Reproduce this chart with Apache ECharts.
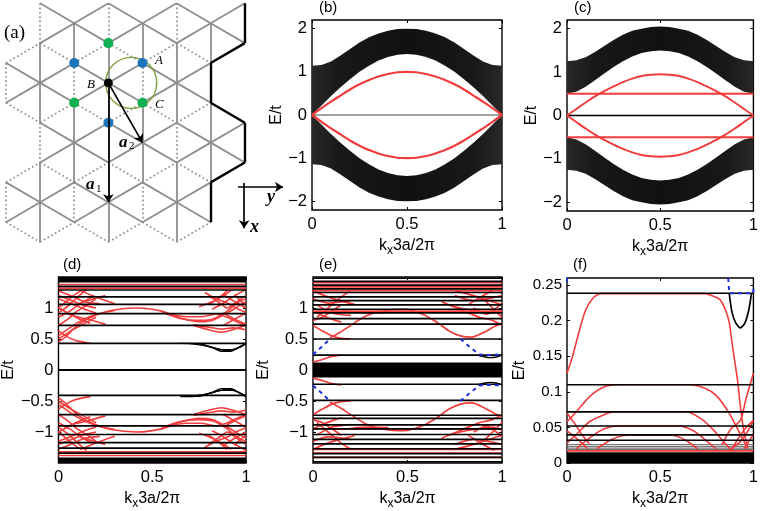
<!DOCTYPE html>
<html><head><meta charset="utf-8">
<script src="https://cdn.jsdelivr.net/npm/echarts@6/dist/echarts.min.js"></script>
<style>html,body{margin:0;padding:0;background:#fff}#c{width:761px;height:511px}</style>
</head><body><div id="c"></div>
<script>
// ---- lattice (panel a): edges as [col,row,col,row]
const latticeSolid=[[1,0,2,1],[2,1,3,0],[3,0,4,1],[4,1,5,0],[5,0,6,1],[6,1,7,0],[1,2,2,1],[2,1,3,2],[3,2,4,1],[4,1,5,2],[5,2,6,1],[6,1,7,2],
[2,1,2,3],[4,1,4,3],[6,1,6,3],[1,2,1,4],[3,2,3,4],[5,2,5,4],[0,3,1,4],[1,4,2,3],[2,3,3,4],[3,4,4,3],[4,3,5,4],[5,4,6,3],
[0,5,1,4],[1,4,2,5],[2,5,3,4],[3,4,4,5],[4,5,5,4],[5,4,6,5],[1,4,1,6],[3,4,3,6],[5,4,5,6],[2,5,2,7],[4,5,4,7],[6,5,6,7],
[1,6,2,7],[2,7,3,6],[3,6,4,7],[4,7,5,6],[5,6,6,7],[6,7,7,6],[1,8,2,7],[2,7,3,8],[3,8,4,7],[4,7,5,8],[5,8,6,7],[6,7,7,8],
[2,7,2,9],[4,7,4,9],[6,7,6,9],[3,6,3,8],[1,8,1,10],[3,8,3,10],[5,8,5,10],[0,9,1,10],[1,10,2,9],[2,9,3,10],[3,10,4,9],[4,9,5,10],[5,10,6,9],
[0,11,1,10],[1,10,2,11],[2,11,3,10],[3,10,4,11],[4,11,5,10],[5,10,6,11],[1,10,1,12],[3,10,3,12],[5,10,5,12]];
const latticeDotted=[[1,0,1,2],[3,0,3,2],[5,0,5,2],[0,3,1,2],[1,2,2,3],[2,3,3,2],[3,2,4,3],[4,3,5,2],[5,2,6,3],[0,3,0,5],[2,3,2,5],[4,3,4,5],
[0,5,1,6],[1,6,2,5],[2,5,3,6],[3,6,4,5],[4,5,5,6],[5,6,6,5],[1,6,1,8],[5,6,5,8],[0,9,1,8],[1,8,2,9],[2,9,3,8],[3,8,4,9],[4,9,5,8],[5,8,6,9],
[0,9,0,11],[2,9,2,11],[4,9,4,11],[0,11,1,12],[1,12,2,11],[2,11,3,12],[3,12,4,11],[4,11,5,12],[5,12,6,11]];
const latticeBold=[[7,0,7,2],[7,2,6,3],[6,3,6,5],[6,5,7,6],[7,6,7,8],[7,8,6,9],[6,9,6,11]];
const sitesGreen=[[3,2],[2,5],[4,5]];
const sitesBlue=[[2,3],[4,3],[3,6]];
const siteBlack=[[3,4]];
const ringCentre=[[3.67,4]];
const arrowsVec=[[3,4,3,10],[3,4,4,7],[6.8,9.23,8.12,9.23],[6.98,9.03,6.98,11.3]];

// ---- panels b, c
const kGrid=[0,.05,.1,.15,.2,.25,.3,.35,.4,.45,.5,.55,.6,.65,.7,.75,.8,.85,.9,.95,1];
const bTop=[1.14,1.16,1.24,1.38,1.53,1.68,1.8,1.89,1.95,1.99,2,1.99,1.95,1.89,1.8,1.68,1.53,1.38,1.24,1.16,1.14];
const bBot=[0,.22,.44,.64,.83,1,1.14,1.26,1.345,1.395,1.41,1.395,1.345,1.26,1.14,1,.83,.64,.44,.22,0];
const bRed=[0,.16,.31,.45,.59,.71,.81,.89,.95,.99,1,.99,.95,.89,.81,.71,.59,.45,.31,.16,0];
const cTop=[1.25,1.27,1.34,1.46,1.6,1.74,1.86,1.95,2,2.04,2.05,2.04,2,1.95,1.86,1.74,1.6,1.46,1.34,1.27,1.25];
const cBot=[.5,.55,.66,.81,.97,1.12,1.25,1.36,1.44,1.48,1.5,1.48,1.44,1.36,1.25,1.12,.97,.81,.66,.55,.5];
const cRed=[0,.15,.3,.44,.56,.67,.77,.85,.91,.94,.95,.94,.91,.85,.77,.67,.56,.44,.3,.15,0];
const cFlatRed=[.5,-.5];
const cFlatBlack=[0];

// ---- panel d
const dLevels=[.43,.72,.91,1.06,1.18,1.29,1.35];
const dLevelsLow=[.41,.72,.9,1.04,1.17,1.26,1.34];
const dFlatRed=[1.38,1.32];
const dBlackCurves=[[[.65,.43],[.75,.42],[.82,.36],[.87,.3],[.92,.3],[.97,.38],[1,.43]],[[.7,.43],[.8,.38],[.87,.33],[.93,.33],[1,.42]],[[.75,.43],[.84,.35],[.9,.31],[.96,.36],[1,.43]]];
const dRed=[
[[0,.63],[.05,.53],[.1,.47],[.17,.43]],
[[0,.45],[.04,.54],[.1,.72],[.18,.86],[.28,.96],[.42,1],[.55,.95],[.65,.84],[.75,.78],[.82,.8],[.9,.92],[.97,1.05],[1,1.1]],
[[0,.5],[.06,.62],[.12,.72],[.2,.85]],
[[0,.55],[.05,.66],[.1,.76],[.15,.84],[.22,.91],[.3,.96]],
[[.72,.72],[.8,.65],[.87,.61],[.93,.65],[1,.72]],
[[.72,.73],[.8,.69],[.87,.66],[.93,.68],[1,.65]],
[[.55,.93],[.65,.83],[.74,.8],[.82,.82],[.9,.95],[.95,1.08],[1,1.15]],
[[.6,.9],[.68,.86],[.76,.86],[.84,.9],[.9,.85],[.95,.78],[1,.72]],
[[.88,.92],[.94,.82],[1,.74]],[[.88,.72],[.94,.82],[1,.92]],
[[0,.92],[.05,1.03],[.1,1.17],[.15,1.3]],[[0,1],[.05,.92],[.1,.84],[.17,.75]],
[[0,1.15],[.06,1.08],[.14,.98],[.2,.92]],[[0,1.28],[.08,1.18],[.14,1.1],[.22,1.07]],[[0,1],[.04,1.1],[.08,1.2],[.12,1.28]],
[[.8,1.05],[.85,1.15],[.9,1.28]],[[.8,1.2],[.86,1.08],[.9,1],[.95,1.1],[1,1.2]],[[.88,1.22],[.94,1.1],[1,1]],
[[0,.72],[.05,.82],[.1,.95],[.16,1.06],[.2,1.15]],[[0,.85],[.06,.95],[.12,1.08],[.18,1.18]],[[.03,.92],[.1,.86],[.18,.8],[.25,.74]],
[[0,1.2],[.07,1.12],[.13,1.05],[.2,1]],[[.12,1.28],[.18,1.2],[.25,1.12],[.3,1.07]],[[.1,1.06],[.18,1.14],[.25,1.2]],
[[.75,1.02],[.82,1.1],[.88,1.2],[.92,1.28]],[[.82,.98],[.88,1.08],[.93,1.18],[1,1.3]],[[.78,1.25],[.84,1.15],[.9,1.08],[.96,.98],[1,.93]],[[.94,1.22],[.97,1.12],[1,1.05]]
];

// ---- panel e
const eLevels=[.24,.5,.74,.83,.92,.98,1.05,1.12,1.18,1.25,1.31,1.37,1.43,1.48];
const eLevelsLow=[.23,.49,.73,.78,.885,.95,1.04,1.12,1.19,1.27,1.35,1.41,1.48];
const eFlatRed=[1.41,1.34,1.28,.95];
const eCurves=[
[[0,.13],[.05,.17],[.1,.22],[.15,.24]],
[[0,.72],[.05,.63],[.1,.55],[.15,.51],[.2,.5]],
[[.09,.52],[.14,.6],[.2,.72],[.28,.87],[.38,.96],[.48,.98],[.58,.9],[.66,.76],[.72,.63],[.78,.55],[.84,.53],[.9,.6],[.96,.7],[1,.75]],
[[0,.95],[.05,.88],[.1,.82],[.15,.77]],[[0,.8],[.05,.85],[.1,.95],[.15,1.05]],[[.02,1.05],[.1,.92],[.2,.88]],
[[.15,.96],[.28,.92],[.4,.93]],[[.72,1.05],[.8,.95],[.88,.85],[.95,.8],[1,.72]],[[.85,1],[.92,.9],[.97,1],[1,1.08]],[[.9,1.15],[.95,1],[1,.85]],
[[0,1.15],[.08,1.08],[.2,1.12]],[[.75,1.2],[.85,1.12],[1,1.2]],
[[0,1.28],[.06,1.2],[.14,1.12],[.22,1.06]],[[.02,.85],[.08,1],[.15,1.18],[.2,1.28]],[[.75,1.28],[.85,1.2],[.93,1.12],[1,1.05]],[[.82,1.05],[.9,1.2],[.96,1.3]],[[.68,1.1],[.75,1.02],[.85,.96],[.95,.92],[1,.97]]
];
const eBlue=[[[0,.25],[.045,.37],[.09,.5]],[[.78,.5],[.83,.37],[.88,.25],[.93,.24],[1,.25]]];
const eBlackCurve=[[.87,.24],[.91,.21],[.94,.2],[.97,.21],[1,.24]];
const eBand=.12;

// ---- panel f
const fLevels=[.2386,.11,.0718,.052,.0395,.032];
const fGrey=[.026,.0235,.021,.019];
const fRed=[
[[0,.126],[.03,.15],[.06,.18],[.1,.215],[.14,.232],[.18,.238],[.74,.238],[.78,.235],[.82,.23],[.85,.215],[.87,.198],[.89,.16],[.915,.116],[.93,.08],[.95,.043],[.97,.022]],
[[1,.126],[.96,.09],[.93,.06],[.88,.048],[.83,.025]],
[[0,.058],[.05,.072],[.12,.093],[.2,.107],[.28,.11],[.66,.11],[.74,.105],[.8,.095],[.87,.07],[.93,.04],[.97,.02]],
[[0,.07],[.04,.056],[.08,.04],[.12,.027]],
[[0,.028],[.05,.04],[.12,.058],[.2,.068],[.25,.072],[.64,.072],[.72,.062],[.78,.048],[.84,.03],[.88,.018]],
[[0,.045],[.04,.037],[.08,.028],[.11,.02]],
[[.05,.02],[.12,.035],[.2,.048],[.27,.052],[.6,.052],[.68,.045],[.74,.033],[.8,.02]],
[[.16,.02],[.24,.033],[.32,.039],[.56,.039],[.63,.033],[.7,.02]],
[[1,.06],[.96,.05],[.92,.035],[.88,.018]],[[.95,.02],[1,.04]],[[.88,.02],[.93,.03],[.97,.045],[1,.06]],
[[0,.017],[1,.017]]
];
const fBlackCurve=[[.87,.2386],[.885,.212],[.905,.197],[.93,.19],[.955,.197],[.975,.215],[.99,.2386]];
const fBlue=[[[.865,.26],[.87,.2386],[1,.2386],[1,.25]],[[0,.26],[0,.255]]];
const fBand=.015;

// ---- axis ticks
const ticksB=[-2,-1,0,1,2];
const ticksD=[-1,-.5,0,.5,1];
const ticksF=[0,.05,.1,.15,.2,.25];
const ticksX=[0,.5,1];

const BLACK='#000',RED='#f23c3c',BLUE='#1a2fe0',GREY='#8e8e8e';
const FONT='"Liberation Sans",Arial,sans-serif';
const panels=[
 {rect:[312,20,190,190],range:[-2.2,2.2],ticks:ticksB,gap:21,size:16.5},
 {rect:[567,20,189,191],range:[-2.2,2.2],ticks:ticksB,gap:19,size:16.5},
 {rect:[57,277,189,190],range:[-1.5,1.5],ticks:ticksD,gap:39,size:16.5},
 {rect:[313,277,189,190],range:[-1.5,1.5],ticks:ticksD,gap:40,size:16.5},
 {rect:[567,278,189,190],range:[0,.26],ticks:ticksF,gap:39,size:15}
];
const grid=[{left:6,top:3.3,width:290,height:248.75,show:false}];
const xAxis=[{gridIndex:0,type:'value',min:0,max:8.5,show:false}];
const yAxis=[{gridIndex:0,type:'value',min:0,max:12.5,inverse:true,show:false}];
const fmt=v=>String(v).replace('-','\u2212').replace(/^\./,'0.');
panels.forEach((p,i)=>{
 const g=i+1;
 grid.push({left:p.rect[0],top:p.rect[1],width:p.rect[2],height:p.rect[3],show:true,borderColor:'#000',borderWidth:1.4,backgroundColor:'#fff'});
 const tick={show:true,inside:true,length:3,lineStyle:{color:'#000',width:1}};
 xAxis.push({gridIndex:g,type:'value',min:0,max:1,position:'bottom',
  axisLine:{show:false,onZero:false},splitLine:{show:false},
  axisTick:{...tick,customValues:ticksX},
  axisLabel:{customValues:ticksX,formatter:fmt,color:'#000',fontFamily:FONT,fontSize:16.5,margin:6,hideOverlap:false},
  name:'{a|k}{s|x}{a|3a/2\u03c0}',nameLocation:'middle',nameGap:24,
  nameTextStyle:{rich:{a:{fontSize:16,fontFamily:FONT,color:'#000'},s:{fontSize:12,fontFamily:FONT,color:'#000',verticalAlign:'bottom',padding:[11,0,0,0]}}}});
 yAxis.push({gridIndex:g,type:'value',min:p.range[0],max:p.range[1],position:'left',
  axisLine:{show:false,onZero:false},splitLine:{show:false},
  axisTick:{...tick,customValues:p.ticks},
  axisLabel:{customValues:p.ticks,formatter:fmt,color:'#000',fontFamily:FONT,fontSize:p.size,margin:5,hideOverlap:false},
  name:'E/t',nameLocation:'middle',nameGap:p.gap,nameTextStyle:{color:'#000',fontFamily:FONT,fontSize:16}});
});
// mirrored ticks on top and right
panels.forEach((p,i)=>{
 const g=i+1;
 const tick={show:true,inside:true,length:3,lineStyle:{color:'#000',width:1}};
 xAxis.push({gridIndex:g,type:'value',min:0,max:1,position:'top',axisLine:{show:false,onZero:false},splitLine:{show:false},axisTick:{...tick,customValues:ticksX},axisLabel:{show:false}});
 yAxis.push({gridIndex:g,type:'value',min:p.range[0],max:p.range[1],position:'right',axisLine:{show:false,onZero:false},splitLine:{show:false},axisTick:{...tick,customValues:p.ticks},axisLabel:{show:false}});
});

const series=[];
const on=g=>({xAxisIndex:g,yAxisIndex:g});
function curve(g,data,color,width,z,extra){
 series.push({type:'line',...on(g),data,showSymbol:false,symbol:'none',smooth:data.length>2?.25:false,silent:true,z:z||3,
  lineStyle:{color,width,...(extra||{})},animation:false});
}
function level(g,e,color,width,z){curve(g,[[0,e],[1,e]],color,width,z);}
function band(g,xs,up,lo,fill,z){
 series.push({type:'custom',...on(g),data:[0],z:z||2,silent:true,clip:true,renderItem:(par,api)=>{
  const pts=xs.map((x,i)=>api.coord([x,up[i]])).concat(xs.map((x,i)=>api.coord([x,lo[i]])).reverse());
  return {type:'polygon',shape:{points:pts},style:{fill}};
 }});
}
const neg=a=>a.map(v=>-v);
const negPts=a=>a.map(p=>[p[0],-p[1]]);
const toPts=(xs,ys)=>xs.map((x,i)=>[x,ys[i]]);
const edges=(list)=>list.map(e=>({coords:[[e[0],e[1]],[e[2],e[3]]]}));
const latticeLines=(list,style,z,extra)=>series.push({type:'lines',coordinateSystem:'cartesian2d',...on(0),data:edges(list),lineStyle:style,z:z,silent:true,animation:false,...(extra||{})});
latticeLines(latticeSolid,{color:GREY,width:1.8,opacity:1},1);
latticeLines(latticeDotted,{color:GREY,width:1.7,type:[1.7,2.6],opacity:1},1);
latticeLines(latticeBold,{color:'#000',width:2.4,opacity:1},2);
latticeLines(arrowsVec,{color:'#000',width:1.7,opacity:1},5,{symbol:['none','arrow'],symbolSize:8});
const dots=(d,color,size,z)=>series.push({type:'scatter',...on(0),data:d,symbol:'circle',symbolSize:size,itemStyle:{color,opacity:1},z:z||4,silent:true,animation:false});
dots(sitesGreen,'#0fb04f',10);dots(sitesBlue,'#1b75bb',10);dots(siteBlack,'#000',9,6);
series.push({type:'scatter',...on(0),data:ringCentre,symbol:'circle',symbolSize:51,itemStyle:{color:'rgba(0,0,0,0)',borderColor:'#7f9f3f',borderWidth:1.4,opacity:1},z:3,silent:true,animation:false});

// b
const BAND=new echarts.graphic.LinearGradient(0,0,1,0,[{offset:0,color:'#282828'},{offset:.15,color:'#181818'},{offset:.5,color:'#111'},{offset:.85,color:'#181818'},{offset:1,color:'#282828'}]);
band(1,kGrid,bTop,bBot,BAND);band(1,kGrid,neg(bBot),neg(bTop),BAND);
level(1,0,'#444',1,3);
curve(1,toPts(kGrid,bRed),RED,2.2,4);curve(1,toPts(kGrid,neg(bRed)),RED,2.2,4);
// c
band(2,kGrid,cTop,cBot,BAND);band(2,kGrid,neg(cBot),neg(cTop),BAND);
cFlatBlack.forEach(e=>level(2,e,BLACK,1.6,3));
curve(2,toPts(kGrid,cRed),RED,1.9,4);curve(2,toPts(kGrid,neg(cRed)),RED,1.9,4);
cFlatRed.forEach(e=>level(2,e,RED,2,4));
// d
dRed.forEach(c=>{curve(3,c,RED,1.6,3);curve(3,negPts(c),RED,1.6,3);});
dFlatRed.forEach(e=>{level(3,e,RED,1.6,3);level(3,-e,RED,1.6,3);});
dLevels.forEach(e=>level(3,e,BLACK,1.7,4));dLevelsLow.forEach(e=>level(3,-e,BLACK,1.7,4));
level(3,0,BLACK,1.8,4);
band(3,[0,1],[1.5,1.5],[1.41,1.41],BLACK,5);band(3,[0,1],[-1.41,-1.41],[-1.5,-1.5],BLACK,5);
dBlackCurves.forEach(c=>{curve(3,c,BLACK,1.3,4);curve(3,negPts(c),BLACK,1.3,4);});
// e
eCurves.forEach(c=>{curve(4,c,RED,1.7,3);curve(4,negPts(c),RED,1.7,3);});
eFlatRed.forEach(e=>{level(4,e,RED,1.7,3);level(4,-e,RED,1.7,3);});
eLevels.forEach(e=>level(4,e,BLACK,1.7,4));eLevelsLow.forEach(e=>level(4,-e,BLACK,1.7,4));
band(4,[0,1],[eBand,eBand],[-eBand,-eBand],BLACK,5);
eBlue.forEach(c=>{
 [c,negPts(c)].forEach(d=>series.push({type:'line',...on(4),data:d,showSymbol:false,symbol:'none',z:6,silent:true,animation:false,lineStyle:{color:BLUE,width:2,type:[4,4]}}));
});
curve(4,eBlackCurve,BLACK,1.4,5);curve(4,negPts(eBlackCurve),BLACK,1.4,5);
// f
fRed.forEach(c=>curve(5,c,RED,1.6,3));
fLevels.forEach(e=>level(5,e,BLACK,1.7,4));
fGrey.forEach(e=>level(5,e,'#777',1.2,2));
band(5,[0,1],[fBand,fBand],[0,0],BLACK,4);
curve(5,fBlackCurve,BLACK,1.7,5);
fBlue.forEach(c=>series.push({type:'line',...on(5),data:c,showSymbol:false,symbol:'none',z:6,silent:true,animation:false,lineStyle:{color:BLUE,width:2,type:[4,4]}}));

const S='"Liberation Serif","Times New Roman",serif';
const txt=(x,y,text,style)=>({type:'text',x,y,style:{text,fill:'#000',...style},z:20,silent:true});
const sans={font:'15px '+FONT};
const graphic=[
 txt(4,24,'(a)',{font:'19px '+S}),
 txt(155,54,'A',{font:'italic 13px '+S}),
 txt(87,78,'B',{font:'italic 13px '+S}),
 txt(155,98,'C',{font:'italic 13px '+S}),
 txt(119,134,'a',{font:'italic bold 17px '+S}),
 txt(129,141,'2',{font:'11px '+S}),
 txt(86,176,'a',{font:'italic bold 17px '+S}),
 txt(96,184,'1',{font:'11px '+S}),
 txt(267,188,'y',{font:'italic bold 18px '+S}),
 txt(250,218,'x',{font:'italic bold 18px '+S}),
 txt(319,0,'(b)',sans),txt(574,0,'(c)',sans),
 txt(63,257,'(d)',sans),txt(319,257,'(e)',sans),txt(573,257,'(f)',sans)
];
const chart=echarts.init(document.getElementById('c'),null,{renderer:'canvas'});
chart.setOption({animation:false,backgroundColor:'#fff',grid,xAxis,yAxis,series,graphic});
</script></body></html>
